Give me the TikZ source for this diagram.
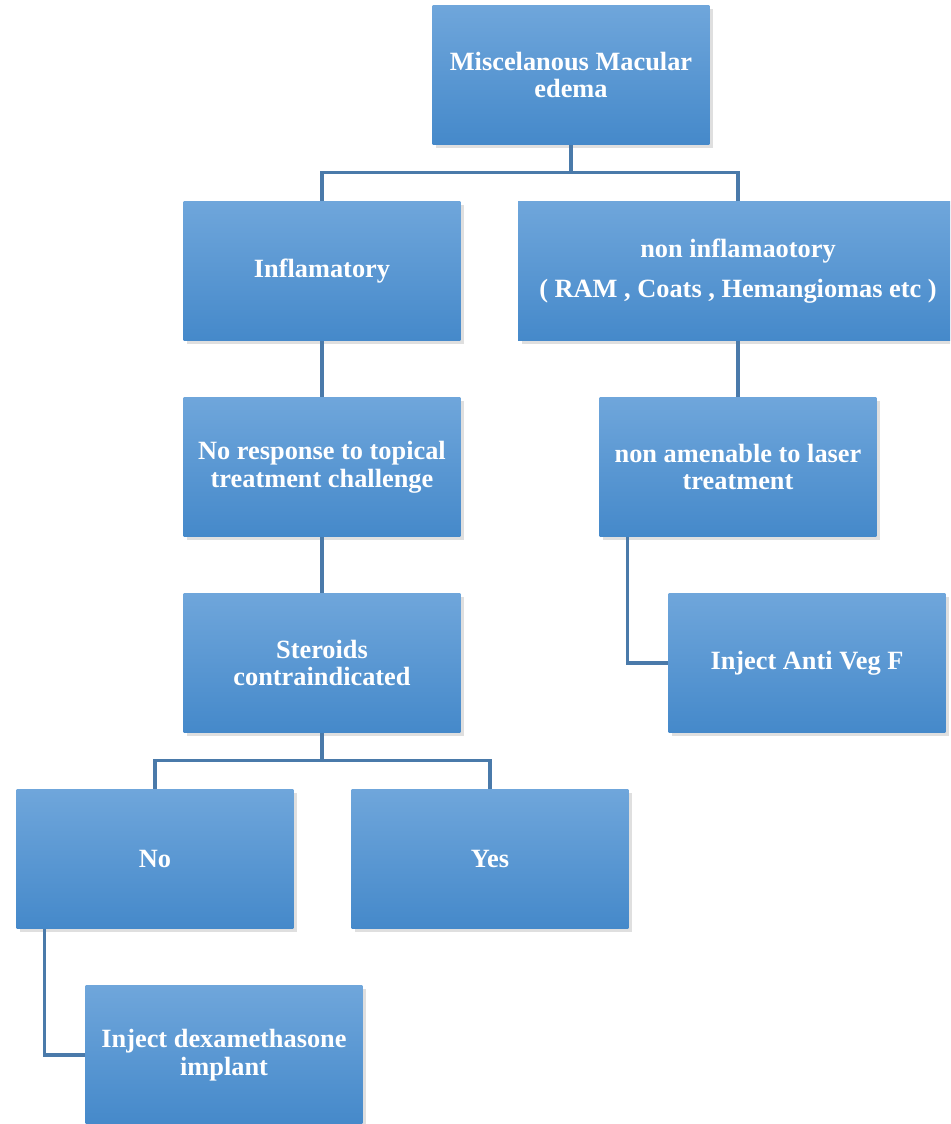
\documentclass[tikz,border=0pt]{standalone}
\usepackage{fontspec}
\setmainfont{Liberation Serif}
\usetikzlibrary{shadows,calc}
\definecolor{boxtop}{RGB}{111,166,219}
\definecolor{boxbot}{RGB}{69,137,202}
\definecolor{linkblue}{RGB}{74,122,170}

\begin{document}
\begin{tikzpicture}[x=0.02cm,y=-0.02cm,
  box/.style={rectangle, minimum width=5.54cm, minimum height=2.78cm, inner sep=2pt,
    top color=boxtop, bottom color=boxbot, text=white, align=center,
    font=\fontsize{15}{15.8}\selectfont\bfseries,
    drop shadow={shadow xshift=2pt, shadow yshift=-2pt, opacity=0.25}},
  link/.style={draw=linkblue, line width=1.8pt}]
\useasboundingbox (0,0) rectangle (950,1124);
\clip (0,0) rectangle (950,1124);
% Boxes
\node[box] (top) at (571,75) {Miscelanous Macular\\edema};
\node[box] (infl) at (322,271) {Inflamatory};
\node[box, minimum width=8.8cm] (noninfl) at (738,271) {non inflamaotory\\[0.25cm]( RAM , Coats , Hemangiomas etc )};
\node[box] (nores) at (322,467) {No response to topical\\treatment challenge};
\node[box] (nonamen) at (738,467) {non amenable to laser\\treatment};
\node[box] (steroids) at (322,663) {Steroids\\contraindicated};
\node[box] (antiveg) at (807,663) {Inject Anti Veg F};
\node[box] (no) at (155,859) {No};
\node[box] (yes) at (490,859) {Yes};
\node[box] (dexa) at (224,1055) {Inject dexamethasone\\implant};
% Links
\draw[link] (top.south) -- ++(0,28) coordinate (topfork) -| (infl.north);
\draw[link] (topfork) -| (noninfl.north);
\draw[link] (infl.south) -- (nores.north);
\draw[link] (nores.south) -- (steroids.north);
\draw[link] (noninfl.south) -- (nonamen.north);
\draw[link] (steroids.south) -- ++(0,28) coordinate (sterfork) -| (no.north);
\draw[link] (sterfork) -| (yes.north);
\draw[link] ($(nonamen.south west)+(28,0)$) |- (antiveg.west);
\draw[link] ($(no.south west)+(28,0)$) |- (dexa.west);
\end{tikzpicture}
\end{document}
